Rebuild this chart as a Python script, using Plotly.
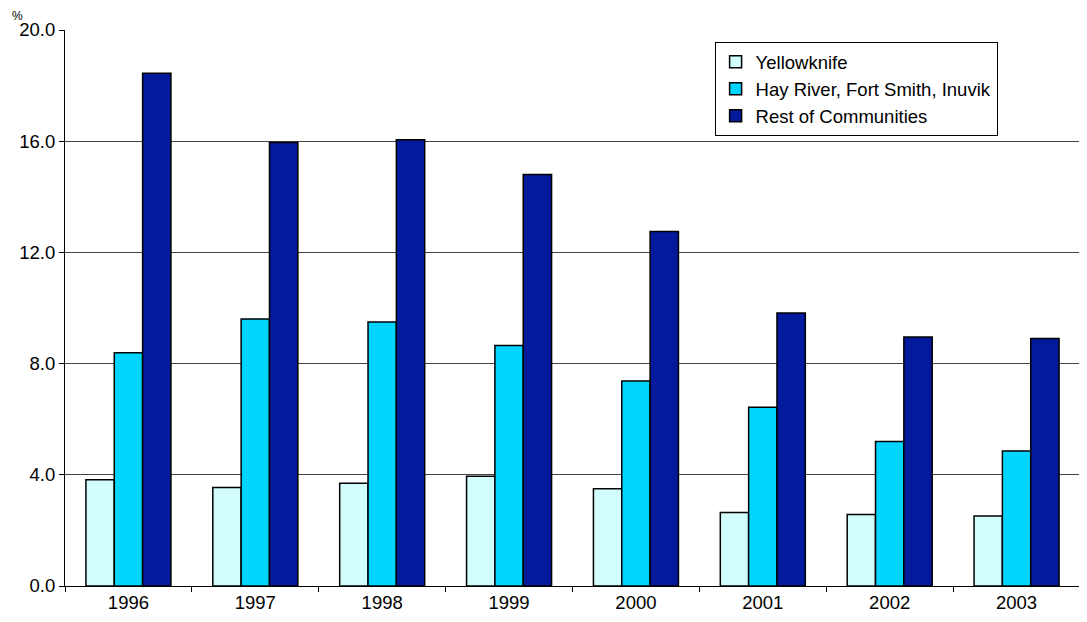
import plotly.graph_objects as go

years = ["1996", "1997", "1998", "1999", "2000", "2001", "2002", "2003"]
yellowknife = [3.82, 3.54, 3.70, 3.95, 3.50, 2.64, 2.57, 2.52]
hay_river = [8.39, 9.60, 9.50, 8.65, 7.37, 6.43, 5.20, 4.86]
rest = [18.44, 15.95, 16.05, 14.80, 12.75, 9.82, 8.96, 8.90]

series = [
    ("Yellowknife", yellowknife, "#D2FDFD"),
    ("Hay River, Fort Smith, Inuvik", hay_river, "#00D5FF"),
    ("Rest of Communities", rest, "#041A9C"),
]

fig = go.Figure()
for name, vals, col in series:
    fig.add_trace(go.Bar(
        x=years, y=vals, name=name,
        marker=dict(color=col, line=dict(color="black", width=1.5)),
    ))

fig.update_layout(
    width=1079, height=614,
    margin=dict(l=57, r=7, t=22, b=36),
    paper_bgcolor="white", plot_bgcolor="white",
    barmode="group", bargap=0.33, bargroupgap=0,
    font=dict(family="Liberation Sans, Arial, sans-serif", size=18.5, color="black"),
    showlegend=True,
    legend=dict(
        x=0.64, y=0.978, xanchor="left", yanchor="top",
        bordercolor="black", borderwidth=1, bgcolor="white",
        font=dict(size=18.5), tracegroupgap=0, itemwidth=30,
    ),
    xaxis=dict(
        type="category", showline=True, linecolor="black", linewidth=1,
        ticks="outside", tickson="boundaries", ticklen=5, tickcolor="black",
        showgrid=False,
    ),
    yaxis=dict(
        range=[0, 20], tickvals=[0, 4, 8, 12, 16, 20],
        ticktext=["0.0", "4.0", "8.0", "12.0", "16.0", "20.0"],
        showline=True, linecolor="black", linewidth=1,
        ticks="outside", ticklen=5, tickcolor="black",
        showgrid=True, gridcolor="#444444", gridwidth=1,
        zeroline=False,
    ),
    annotations=[dict(
        text="%", xref="paper", yref="paper", x=-0.047, y=1.0, yshift=14,
        xanchor="center", yanchor="middle", showarrow=False, font=dict(size=12),
    )],
)

fig.write_html("out.html")
